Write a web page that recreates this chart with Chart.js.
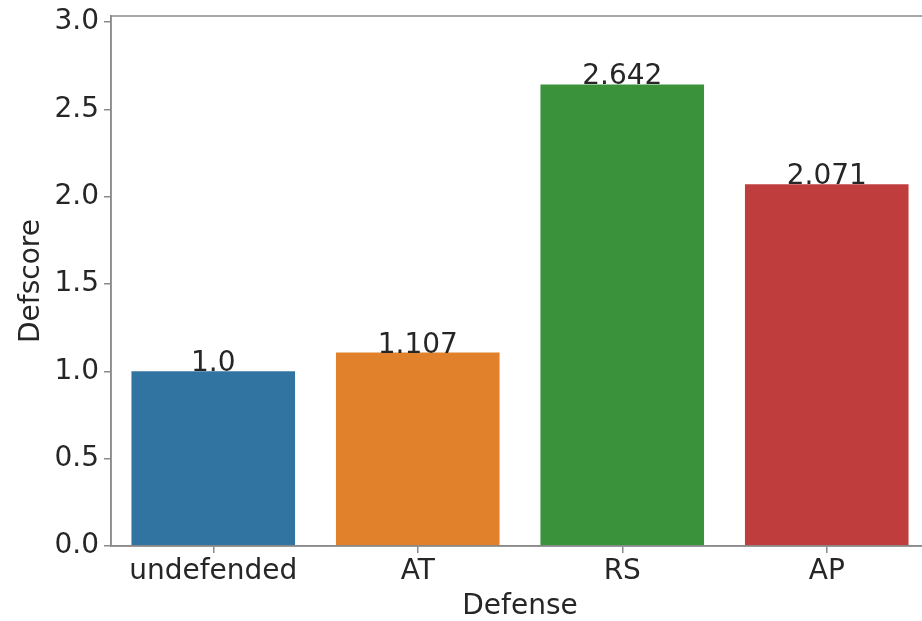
<!DOCTYPE html>
<html>
<head>
<meta charset="utf-8">
<script src="https://cdn.jsdelivr.net/npm/chart.js@4/dist/chart.umd.min.js"></script>
<style>
  html, body { margin: 0; padding: 0; background: #fff; overflow: hidden; }
  #wrap { width: 930px; height: 621px; }
</style>
</head>
<body>
<div id="wrap"><canvas id="c" width="930" height="621"></canvas></div>
<script>
// Defense methods and their scores
const defenses = ['undefended', 'AT', 'RS', 'AP'];
const defscores = [1.0, 1.107, 2.642, 2.071];
const barColors = ['#3274a1', '#e1812c', '#3a923a', '#c03d3e'];
const yTicks = [0.0, 0.5, 1.0, 1.5, 2.0, 2.5, 3.0];

const FONT = 'DejaVu Sans';
const TEXT = '#262626';
const SPINE = '#8a8a8a';

const fmt = v => Number.isInteger(v) ? v.toFixed(1) : String(v);

// Frame around the plotting area (top and right spines)
const framePlugin = {
  id: 'frame',
  afterDatasetsDraw(chart) {
    const { ctx, chartArea: a } = chart;
    ctx.save();
    ctx.strokeStyle = SPINE;
    ctx.lineWidth = 1.5;
    ctx.strokeRect(a.left, a.top, a.right - a.left, a.bottom - a.top);
    ctx.restore();
  }
};

// Value annotations above each bar
const valueLabels = {
  id: 'valueLabels',
  afterDatasetsDraw(chart) {
    const { ctx } = chart;
    const meta = chart.getDatasetMeta(0);
    ctx.save();
    ctx.font = `28px "${FONT}"`;
    ctx.fillStyle = TEXT;
    ctx.textAlign = 'center';
    ctx.textBaseline = 'alphabetic';
    meta.data.forEach((bar, i) => {
      ctx.fillText(fmt(defscores[i]), bar.x, bar.y);
    });
    ctx.restore();
  }
};

new Chart(document.getElementById('c'), {
  type: 'bar',
  data: {
    labels: defenses,
    datasets: [{
      data: defscores,
      backgroundColor: barColors,
      borderWidth: 0,
      categoryPercentage: 0.8,
      barPercentage: 1.0
    }]
  },
  options: {
    responsive: false,
    animation: false,
    devicePixelRatio: 1,
    layout: { padding: { top: 16, right: 1, bottom: 0, left: 0 } },
    plugins: { legend: { display: false }, tooltip: { enabled: false } },
    scales: {
      x: {
        grid: { offset: false, drawOnChartArea: false, drawTicks: true, tickLength: 7, color: SPINE, lineWidth: 1.5 },
        border: { display: true, color: SPINE, width: 1.5 },
        ticks: { color: TEXT, font: { family: FONT, size: 28 }, padding: 2, maxRotation: 0 },
        title: { display: true, text: 'Defense', color: TEXT, font: { family: FONT, size: 28, lineHeight: 1.0 }, padding: { top: 0, bottom: 0 } },
        afterFit(scale) { scale.height = 75; scale.paddingLeft = 0; scale.paddingRight = 0; }
      },
      y: {
        min: 0,
        max: 3.034,
        afterBuildTicks(scale) { scale.ticks = yTicks.map(v => ({ value: v })); },
        grid: { drawOnChartArea: false, drawTicks: true, tickLength: 7, color: SPINE, lineWidth: 1.5 },
        border: { display: true, color: SPINE, width: 1.5 },
        ticks: { color: TEXT, font: { family: FONT, size: 28 }, padding: 5, callback: v => Number(v).toFixed(1) },
        title: { display: true, text: 'Defscore', color: TEXT, font: { family: FONT, size: 28, lineHeight: 1.0 }, padding: { top: 18, bottom: 0 } },
        afterFit(scale) { scale.width = 111; scale.paddingTop = 0; scale.paddingBottom = 0; }
      }
    }
  },
  plugins: [framePlugin, valueLabels]
});
</script>
</body>
</html>
